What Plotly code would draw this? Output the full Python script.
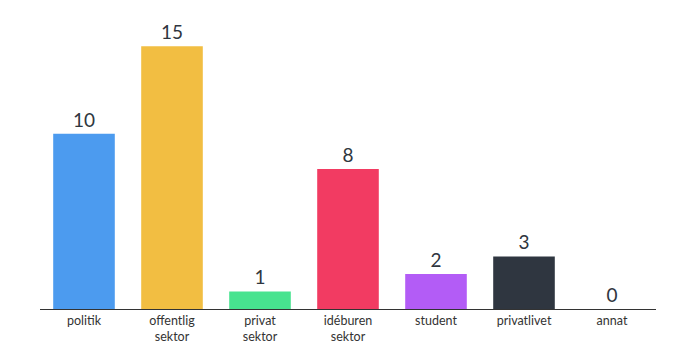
import plotly.graph_objects as go

categories = ["politik", "offentlig<br>sektor", "privat<br>sektor", "idéburen<br>sektor", "student", "privatlivet", "annat"]
values = [10, 15, 1, 8, 2, 3, 0]
colors = ["#4C9BEF", "#F2BE42", "#47E38F", "#F23B62", "#B35CF6", "#2F3640", "#2F3640"]

fig = go.Figure(go.Bar(
    x=categories, y=values, marker_color=colors, marker_line_width=0,
    text=[str(v) for v in values], textposition="outside", cliponaxis=False,
    textfont=dict(family="Lato, sans-serif", size=19, color="#2F3640"),
))
fig.update_layout(
    width=674, height=345, margin=dict(l=40, r=18, t=20, b=36),
    plot_bgcolor="white", paper_bgcolor="white", bargap=0.3, showlegend=False,
    font=dict(family="Lato, sans-serif", color="#333"),
)
fig.update_xaxes(showline=True, linecolor="#333", linewidth=1, ticks="", showgrid=False,
                 automargin=False, tickfont=dict(size=12.5, color="#333"))
fig.update_yaxes(visible=False, range=[0, 16.5], automargin=False)
fig.write_html("out.html")
